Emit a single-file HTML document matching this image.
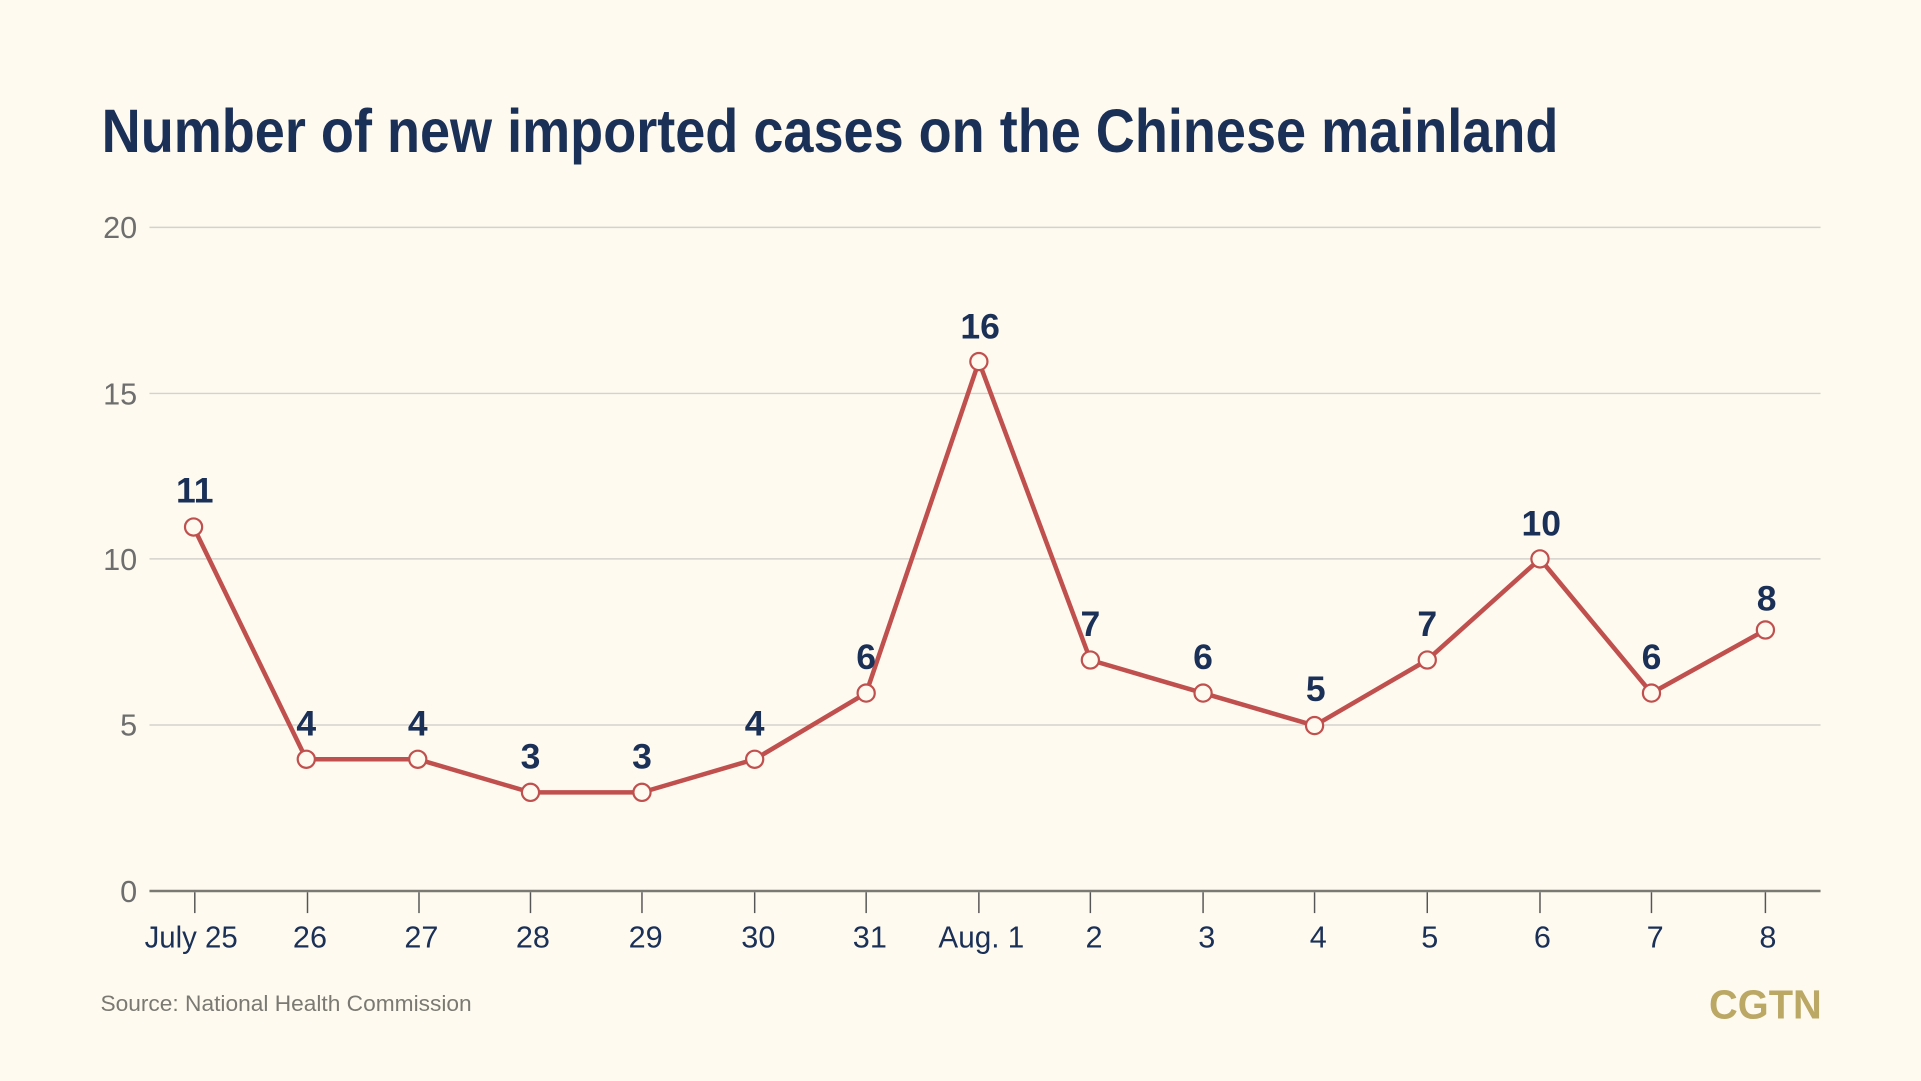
<!DOCTYPE html>
<html><head><meta charset="utf-8"><style>
html,body{margin:0;padding:0;background:#fefaf0;}
svg{display:block;}
</style></head><body>
<svg width="1921" height="1081" viewBox="0 0 1568 882" preserveAspectRatio="none" xmlns="http://www.w3.org/2000/svg" font-family="Liberation Sans, sans-serif">
<rect width="1568" height="882" fill="#fefaf0"/>
<text x="83" y="124" font-size="50" font-weight="bold" fill="#1b3057" textLength="1189" lengthAdjust="spacingAndGlyphs">Number of new imported cases on the Chinese mainland</text>
<g stroke="#d4d2cb" stroke-width="1.2">
<line x1="122" y1="185.5" x2="1486" y2="185.5"/>
<line x1="122" y1="321" x2="1486" y2="321"/>
<line x1="122" y1="456" x2="1486" y2="456"/>
<line x1="122" y1="591.5" x2="1486" y2="591.5"/>
</g>
<line x1="122" y1="727" x2="1486" y2="727" stroke="#7a7a72" stroke-width="2"/>
<g font-size="25" fill="#6e6e6e" text-anchor="end">
<text x="112" y="194">20</text><text x="112" y="330">15</text><text x="112" y="465">10</text><text x="112" y="600">5</text><text x="112" y="736">0</text>
</g>
<g stroke="#555" stroke-width="1.2">
<line x1="159" y1="728" x2="159" y2="745"/><line x1="251" y1="728" x2="251" y2="745"/><line x1="342" y1="728" x2="342" y2="745"/><line x1="433" y1="728" x2="433" y2="745"/><line x1="524" y1="728" x2="524" y2="745"/><line x1="616" y1="728" x2="616" y2="745"/><line x1="707" y1="728" x2="707" y2="745"/><line x1="799" y1="728" x2="799" y2="745"/><line x1="890" y1="728" x2="890" y2="745"/><line x1="982" y1="728" x2="982" y2="745"/><line x1="1073" y1="728" x2="1073" y2="745"/><line x1="1165" y1="728" x2="1165" y2="745"/><line x1="1257" y1="728" x2="1257" y2="745"/><line x1="1348" y1="728" x2="1348" y2="745"/><line x1="1441" y1="728" x2="1441" y2="745"/>
</g>
<g font-size="25" fill="#1b3057" text-anchor="middle">
<text x="156" y="773" textLength="76" lengthAdjust="spacingAndGlyphs">July 25</text><text x="253" y="773">26</text><text x="344" y="773">27</text><text x="435" y="773">28</text><text x="527" y="773">29</text><text x="619" y="773">30</text><text x="710" y="773">31</text><text x="801" y="773" textLength="70" lengthAdjust="spacingAndGlyphs">Aug. 1</text><text x="893" y="773">2</text><text x="985" y="773">3</text><text x="1076" y="773">4</text><text x="1167" y="773">5</text><text x="1259" y="773">6</text><text x="1351" y="773">7</text><text x="1443" y="773">8</text>
</g>
<polyline fill="none" stroke="#c0504d" stroke-width="3.7" stroke-linejoin="round" points="158,430 250,619.5 341,619.5 433,646.5 524,646.5 616,619.5 707,565.5 799,295 890,538.5 982,565.5 1073,592 1165,538.5 1257,456 1348,565.5 1441,514"/>
<g fill="#fffaf0" stroke="#c0504d" stroke-width="1.8">
<circle cx="158" cy="430" r="7"/><circle cx="250" cy="619.5" r="7"/><circle cx="341" cy="619.5" r="7"/><circle cx="433" cy="646.5" r="7"/><circle cx="524" cy="646.5" r="7"/><circle cx="616" cy="619.5" r="7"/><circle cx="707" cy="565.5" r="7"/><circle cx="799" cy="295" r="7"/><circle cx="890" cy="538.5" r="7"/><circle cx="982" cy="565.5" r="7"/><circle cx="1073" cy="592" r="7"/><circle cx="1165" cy="538.5" r="7"/><circle cx="1257" cy="456" r="7"/><circle cx="1348" cy="565.5" r="7"/><circle cx="1441" cy="514" r="7"/>
</g>
<g font-size="29" font-weight="bold" fill="#1b3057" text-anchor="middle">
<text x="159" y="410">11</text><text x="250" y="600">4</text><text x="341" y="600">4</text><text x="433" y="627">3</text><text x="524" y="627">3</text><text x="616" y="600">4</text><text x="707" y="546">6</text><text x="800" y="276">16</text><text x="890" y="519">7</text><text x="982" y="546">6</text><text x="1074" y="572">5</text><text x="1165" y="519">7</text><text x="1258" y="437">10</text><text x="1348" y="546">6</text><text x="1442" y="498">8</text>
</g>
<text x="82" y="825" font-size="18" fill="#7a7a72" textLength="303" lengthAdjust="spacingAndGlyphs">Source: National Health Commission</text>
<text x="1487" y="831" font-size="33" font-weight="bold" fill="#bba865" text-anchor="end" textLength="92" lengthAdjust="spacingAndGlyphs">CGTN</text>
</svg>
</body></html>
